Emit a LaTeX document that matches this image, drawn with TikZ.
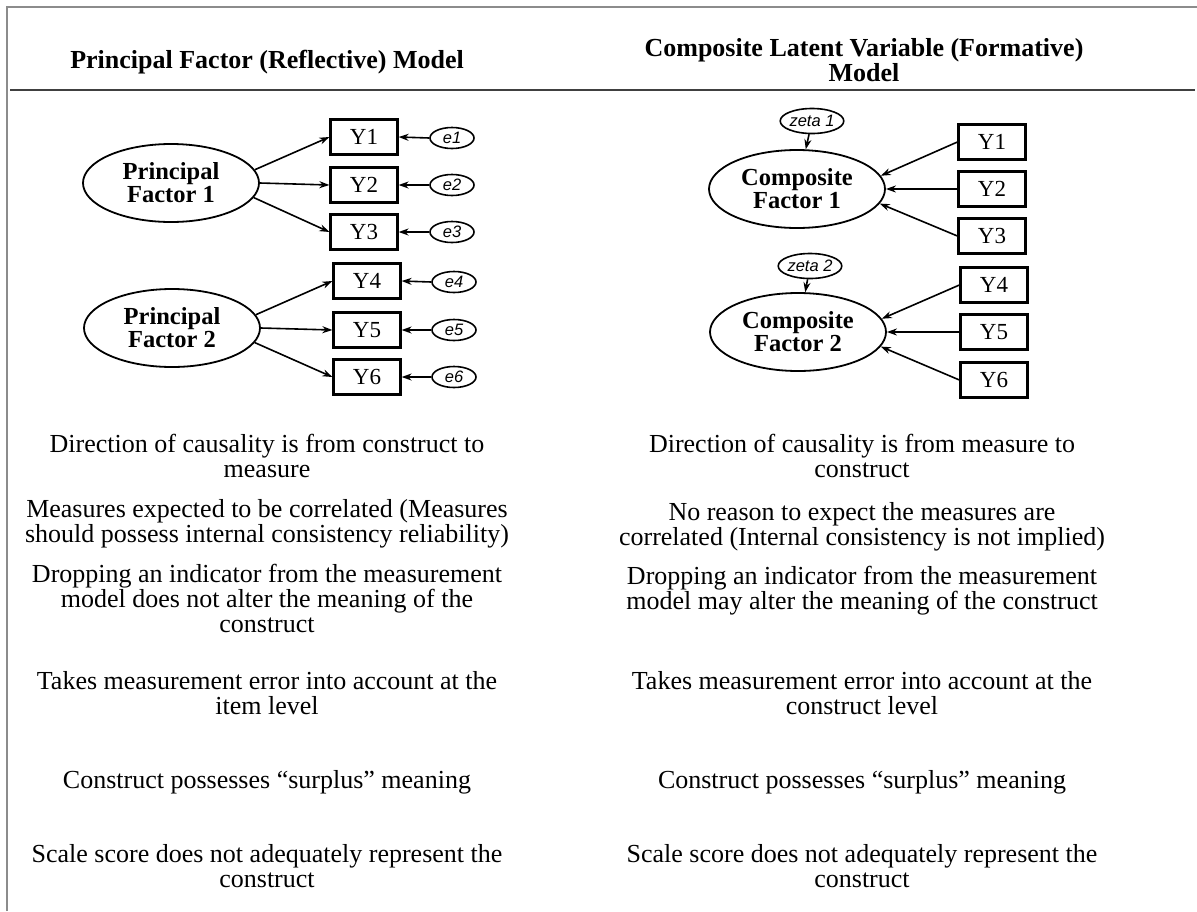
\documentclass[tikz,border=0pt]{standalone}
\usepackage{fontspec}
\setmainfont{Liberation Serif}
\newfontfamily\labelsans{Liberation Sans}
\usetikzlibrary{arrows.meta,shapes.geometric}
\begin{document}
\begin{tikzpicture}[x=1pt,y=-1pt,
  factor/.style={ellipse, draw, line width=1.8pt, minimum width=176pt, minimum height=78pt,
    inner sep=0pt, align=center, font=\fontsize{24.5}{23}\selectfont\bfseries},
  measure/.style={rectangle, draw, line width=2.2pt, minimum width=67pt, minimum height=35pt,
    inner sep=0pt, font=\fontsize{23}{23}\selectfont},
  errnode/.style={ellipse, draw, line width=1.6pt, minimum width=44pt, minimum height=21pt,
    inner sep=0pt, font=\labelsans\itshape\fontsize{16.5}{16.5}\selectfont},
  zetanode/.style={ellipse, draw, line width=1.6pt, minimum width=59pt, minimum height=25pt,
    inner sep=0pt, font=\labelsans\itshape\fontsize{16.5}{16.5}\selectfont},
  link/.style={draw, line width=1.6pt, -{Stealth[length=10pt,width=7pt]}},
  item/.style={align=center, anchor=base, font=\fontsize{26}{25}\selectfont},
  head/.style={align=center, anchor=base, font=\fontsize{26}{23}\selectfont\bfseries}]

\useasboundingbox (0,0) rectangle (1197,911);

% frame and header rule
\draw[line width=1.4pt, black!45] (7,911) -- (7,7) -- (1197,7);
\draw[line width=2pt, black!75] (10,90) -- (1195,90);

% column headings (a node's base is the baseline of its last line)
\node[head] (hl) at (267,68) {Principal Factor (Reflective) Model};
\node[head] (hr) at (864,81) {Composite Latent Variable (Formative)\\Model};

% reflective model
\node[factor] (pf1) at (171,183) {Principal\\[0pt]Factor 1};
\node[factor] (pf2) at (172,328) {Principal\\[0pt]Factor 2};
\node[measure] (ly1) at (364,137) {Y1};
\node[measure] (ly2) at (364,185) {Y2};
\node[measure] (ly3) at (364,232) {Y3};
\node[measure] (ly4) at (367,281) {Y4};
\node[measure] (ly5) at (367,330) {Y5};
\node[measure] (ly6) at (367,377) {Y6};
\node[errnode] (e1) at (452,138) {e1};
\node[errnode] (e2) at (452,185) {e2};
\node[errnode] (e3) at (452,232) {e3};
\node[errnode] (e4) at (454,282) {e4};
\node[errnode] (e5) at (454,330) {e5};
\node[errnode] (e6) at (454,377) {e6};

\path[link] (pf1.9) -- (ly1.west);
\path[link] (pf1.east) -- (ly2.west);
\path[link] (pf1.-10) -- (ly3.west);
\path[link] (pf2.9) -- (ly4.west);
\path[link] (pf2.east) -- (ly5.west);
\path[link] (pf2.-10) -- (ly6.west);
\foreach \i in {1,...,6} \path[link] (e\i.west) -- (ly\i.east);

% formative model
\node[factor] (cf1) at (797,189) {Composite\\[0pt]Factor 1};
\node[factor] (cf2) at (798,332) {Composite\\[0pt]Factor 2};
\node[zetanode] (z1) at (812,121) {zeta 1};
\node[zetanode] (z2) at (810,266) {zeta 2};
\node[measure] (ry1) at (992,142) {Y1};
\node[measure] (ry2) at (992,189) {Y2};
\node[measure] (ry3) at (992,236) {Y3};
\node[measure] (ry4) at (994,285) {Y4};
\node[measure] (ry5) at (994,332) {Y5};
\node[measure] (ry6) at (994,380) {Y6};

\path[link] (z1) -- (cf1);
\path[link] (z2) -- (cf2);
\path[link] (ry1.west) -- (cf1.9);
\path[link] (ry2.west) -- (cf1.east);
\path[link] (ry3.west) -- (cf1.-10);
\path[link] (ry4.west) -- (cf2.9);
\path[link] (ry5.west) -- (cf2.east);
\path[link] (ry6.west) -- (cf2.-10);

% properties of the reflective model
\node[item] (l1) at (267,477) {Direction of causality is from construct to\\measure};
\node[item] (l2) at (267,542) {Measures expected to be correlated (Measures\\should possess internal consistency reliability)};
\node[item] (l3) at (267,632) {Dropping an indicator from the measurement\\model does not alter the meaning of the\\construct};
\node[item] (l4) at (267,714) {Takes measurement error into account at the\\item level};
\node[item] (l5) at (267,788) {Construct possesses ``surplus'' meaning};
\node[item] (l6) at (267,887) {Scale score does not adequately represent the\\construct};

% properties of the formative model
\node[item] (r1) at (862,477) {Direction of causality is from measure to\\construct};
\node[item] (r2) at (862,545) {No reason to expect the measures are\\correlated (Internal consistency is not implied)};
\node[item] (r3) at (862,609) {Dropping an indicator from the measurement\\model may alter the meaning of the construct};
\node[item] (r4) at (862,714) {Takes measurement error into account at the\\construct level};
\node[item] (r5) at (862,788) {Construct possesses ``surplus'' meaning};
\node[item] (r6) at (862,887) {Scale score does not adequately represent the\\construct};
\end{tikzpicture}
\end{document}
